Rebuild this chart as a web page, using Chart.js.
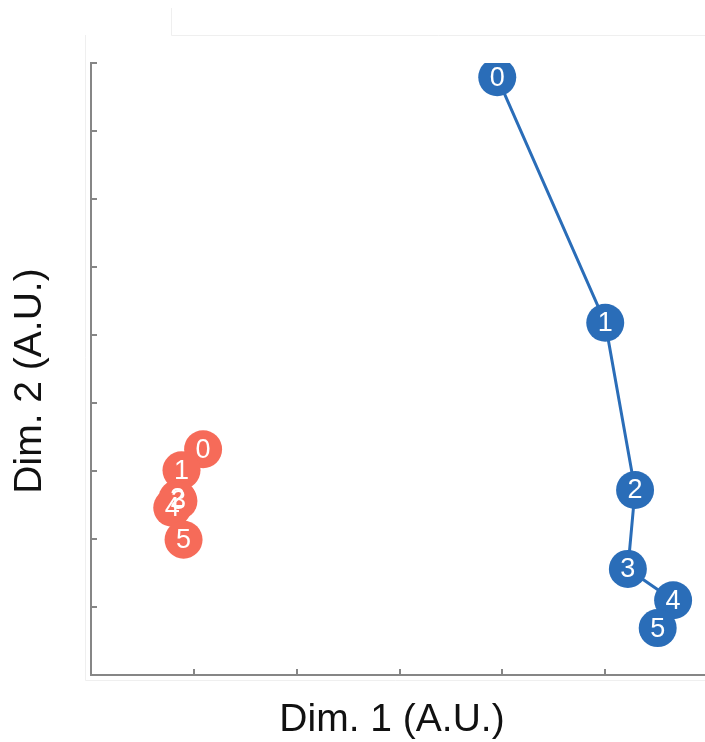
<!DOCTYPE html>
<html>
<head>
<meta charset="utf-8">
<script src="https://cdn.jsdelivr.net/npm/chart.js@4/dist/chart.umd.min.js"></script>
<style>
  html, body { margin: 0; padding: 0; background: #ffffff; }
  #wrap { width: 705px; height: 742px; position: relative; }
</style>
</head>
<body>
<div id="wrap"><canvas id="chart" width="705" height="742"></canvas></div>
<script>
// Trajectory labels (time steps) shared by both groups
const stepLabels = ['0', '1', '2', '3', '4', '5'];

// Group A (red) coordinates in embedding space
const redX = [1.09, 0.88, 0.84, 0.85, 0.79, 0.90];
const redY = [3.32, 3.01, 2.59, 2.56, 2.46, 1.99];

// Group B (blue) coordinates in embedding space
const blueX = [3.95, 5.00, 5.29, 5.22, 5.66, 5.51];
const blueY = [8.79, 5.18, 2.72, 1.56, 1.10, 0.69];

const xTitle = 'Dim. 1 (A.U.)';
const yTitle = 'Dim. 2 (A.U.)';

const RED = '#f66b59';
const BLUE = '#2a6db8';
const AXIS = '#868686';

function toPoints(xs, ys) {
  return xs.map((x, i) => ({ x: x, y: ys[i] }));
}

// Thin light frame lines around the figure panel
const framePlugin = {
  id: 'frame',
  beforeDraw(chart) {
    const ctx = chart.ctx;
    ctx.save();
    ctx.strokeStyle = '#efefef';
    ctx.lineWidth = 1;
    ctx.beginPath();
    ctx.moveTo(85.5, 35); ctx.lineTo(85.5, 680.5); ctx.lineTo(705, 680.5);
    ctx.moveTo(171.5, 8); ctx.lineTo(171.5, 35.5); ctx.lineTo(705, 35.5);
    ctx.stroke();
    ctx.restore();
  }
};

// Inward tick marks at every integer tick
const innerTicksPlugin = {
  id: 'innerTicks',
  afterDraw(chart) {
    const ctx = chart.ctx;
    const xs = chart.scales.x, ys = chart.scales.y;
    const len = 6;
    ctx.save();
    ctx.strokeStyle = AXIS;
    ctx.lineWidth = 2;
    ctx.beginPath();
    xs.ticks.forEach(t => {
      if (!Number.isInteger(t.value)) return;
      const px = Math.round(xs.getPixelForValue(t.value));
      ctx.moveTo(px, ys.bottom);
      ctx.lineTo(px, ys.bottom - len);
    });
    ys.ticks.forEach(t => {
      const py = Math.round(ys.getPixelForValue(t.value));
      ctx.moveTo(xs.left, py);
      ctx.lineTo(xs.left + len, py);
    });
    ctx.stroke();
    ctx.restore();
  }
};

// Step numbers written inside every marker
const stepLabelPlugin = {
  id: 'stepLabels',
  afterDatasetsDraw(chart) {
    const ctx = chart.ctx;
    ctx.save();
    ctx.fillStyle = '#ffffff';
    ctx.font = '27px "Liberation Sans", Arial, sans-serif';
    ctx.textAlign = 'center';
    ctx.textBaseline = 'middle';
    chart.data.datasets.forEach((ds, di) => {
      const meta = chart.getDatasetMeta(di);
      meta.data.forEach((pt, i) => {
        ctx.fillText(stepLabels[i], pt.x, pt.y + 1);
      });
    });
    ctx.restore();
  }
};

// Axis titles
const axisTitlePlugin = {
  id: 'axisTitles',
  afterDraw(chart) {
    const ctx = chart.ctx;
    ctx.save();
    ctx.fillStyle = '#111111';
    ctx.font = '39px "Liberation Sans", Arial, sans-serif';
    ctx.textAlign = 'center';
    ctx.textBaseline = 'middle';
    ctx.fillText(xTitle, 392, 720);
    ctx.translate(30, 381);
    ctx.rotate(-Math.PI / 2);
    ctx.fillText(yTitle, 0, 0);
    ctx.restore();
  }
};

new Chart(document.getElementById('chart'), {
  type: 'scatter',
  data: {
    datasets: [
      {
        data: toPoints(redX, redY),
        showLine: true,
        borderColor: RED,
        borderWidth: 3,
        backgroundColor: RED,
        pointBackgroundColor: RED,
        pointBorderColor: RED,
        pointBorderWidth: 0,
        pointRadius: 19,
        pointHoverRadius: 19
      },
      {
        data: toPoints(blueX, blueY),
        showLine: true,
        borderColor: BLUE,
        borderWidth: 3,
        backgroundColor: BLUE,
        pointBackgroundColor: BLUE,
        pointBorderColor: BLUE,
        pointBorderWidth: 0,
        pointRadius: 19,
        pointHoverRadius: 19
      }
    ]
  },
  options: {
    responsive: false,
    animation: false,
    events: [],
    layout: { autoPadding: false, padding: { left: 91, top: 63, right: 0, bottom: 67 } },
    plugins: {
      legend: { display: false },
      tooltip: { enabled: false },
      title: { display: false }
    },
    scales: {
      x: {
        type: 'linear',
        min: 0,
        max: 5.97,
        ticks: { display: false, stepSize: 1 },
        grid: { display: true, drawOnChartArea: false, drawTicks: false, color: AXIS, lineWidth: 2 },
        border: { display: true, color: AXIS, width: 2 }
      },
      y: {
        type: 'linear',
        min: 0,
        max: 9,
        ticks: { display: false, stepSize: 1 },
        grid: { display: true, drawOnChartArea: false, drawTicks: false, color: AXIS, lineWidth: 2 },
        border: { display: true, color: AXIS, width: 2 }
      }
    }
  },
  plugins: [framePlugin, innerTicksPlugin, stepLabelPlugin, axisTitlePlugin]
});
</script>
</body>
</html>
